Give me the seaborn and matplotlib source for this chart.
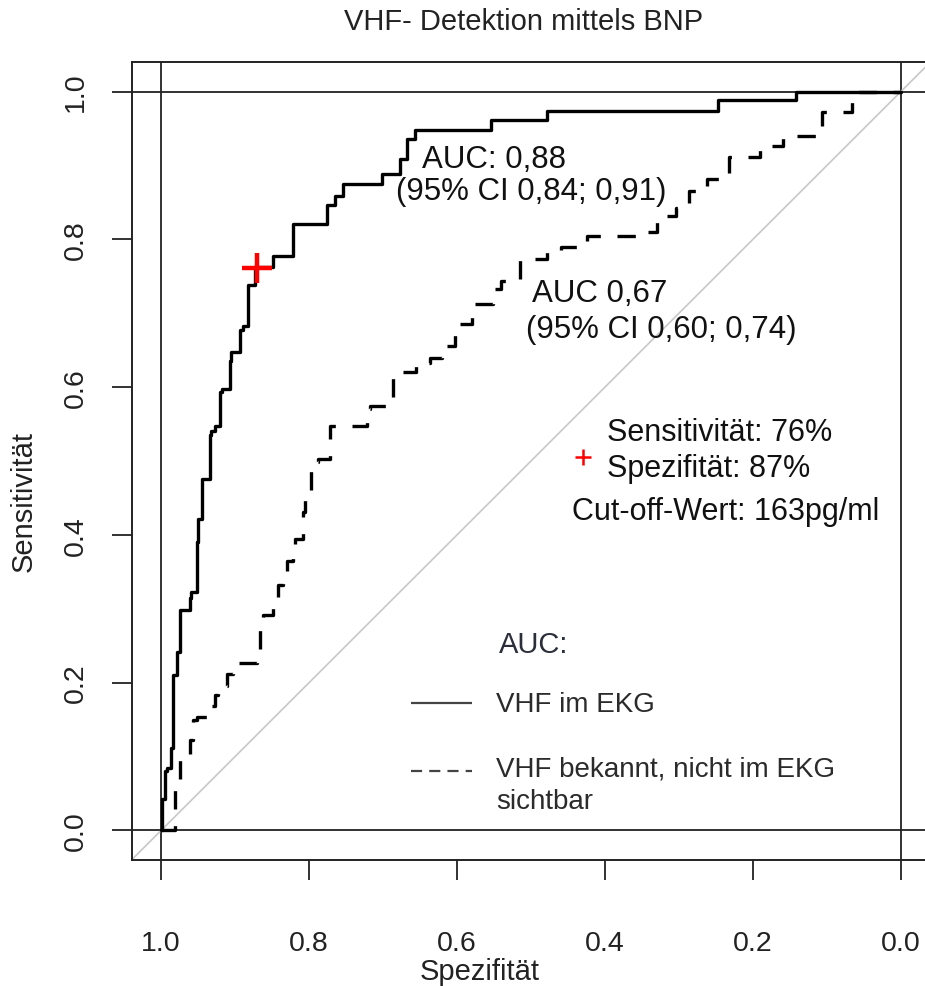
import numpy as np
import pandas as pd
import matplotlib
matplotlib.use("Agg")
import matplotlib.pyplot as plt
import seaborn as sns

# ---------------- data ----------------
title = "VHF- Detektion mittels BNP"
x_label = "Spezifität"
y_label = "Sensitivität"
tick_values = [1.0, 0.8, 0.6, 0.4, 0.2, 0.0]
tick_labels = ["1.0", "0.8", "0.6", "0.4", "0.2", "0.0"]

# ROC curve 1: VHF im EKG (solid)
spec_ekg = [1.0, 0.999, 0.999, 0.995, 0.995, 0.992, 0.986, 0.986, 0.984, 0.984,
            0.979, 0.979, 0.974, 0.974, 0.961, 0.961, 0.959, 0.952, 0.952, 0.950,
            0.950, 0.945, 0.945, 0.941, 0.934, 0.934, 0.932, 0.927, 0.920, 0.920,
            0.918, 0.907, 0.907, 0.905, 0.893, 0.893, 0.889, 0.882, 0.882, 0.873,
            0.871, 0.849, 0.849, 0.822, 0.822, 0.808, 0.776, 0.776, 0.765, 0.754,
            0.740, 0.702, 0.702, 0.677, 0.677, 0.668, 0.668, 0.657, 0.657, 0.554,
            0.554, 0.479, 0.479, 0.247, 0.247, 0.142, 0.142, 0.0]
sens_ekg = [0.0, 0.0, 0.016, 0.043, 0.074, 0.080, 0.084, 0.107, 0.111, 0.202,
            0.210, 0.237, 0.242, 0.298, 0.298, 0.300, 0.314, 0.323, 0.391, 0.391,
            0.422, 0.422, 0.436, 0.476, 0.476, 0.507, 0.535, 0.540, 0.548, 0.585,
            0.594, 0.598, 0.635, 0.635, 0.648, 0.675, 0.677, 0.683, 0.729, 0.738,
            0.762, 0.762, 0.777, 0.777, 0.792, 0.821, 0.821, 0.832, 0.846, 0.859,
            0.875, 0.875, 0.889, 0.889, 0.909, 0.909, 0.936, 0.936, 0.948, 0.948,
            0.961, 0.961, 0.974, 0.974, 0.988, 0.988, 1.0, 1.0]

# ROC curve 2: VHF bekannt, nicht im EKG sichtbar (dashed)
spec_known = [1.0, 0.981, 0.981, 0.976, 0.974, 0.974, 0.961, 0.957, 0.951, 0.937,
              0.927, 0.923, 0.911, 0.903, 0.889, 0.870, 0.866, 0.866, 0.862, 0.849,
              0.842, 0.835, 0.830, 0.822, 0.819, 0.808, 0.805, 0.797, 0.797, 0.788,
              0.772, 0.772, 0.745, 0.722, 0.718, 0.695, 0.687, 0.687, 0.668, 0.655,
              0.637, 0.620, 0.603, 0.600, 0.580, 0.579, 0.552, 0.547, 0.540, 0.515,
              0.515, 0.512, 0.479, 0.460, 0.450, 0.424, 0.424, 0.390, 0.343, 0.330,
              0.323, 0.304, 0.286, 0.286, 0.262, 0.262, 0.232, 0.232, 0.215, 0.190,
              0.180, 0.160, 0.151, 0.107, 0.107, 0.088, 0.066, 0.057, 0.057, 0.0]
sens_known = [0.0, 0.0, 0.030, 0.060, 0.070, 0.093, 0.104, 0.122, 0.149, 0.154,
              0.169, 0.183, 0.195, 0.212, 0.226, 0.226, 0.242, 0.267, 0.287, 0.291,
              0.310, 0.332, 0.345, 0.364, 0.386, 0.395, 0.431, 0.453, 0.479, 0.499,
              0.503, 0.530, 0.547, 0.547, 0.571, 0.575, 0.585, 0.605, 0.621, 0.621,
              0.632, 0.639, 0.656, 0.686, 0.686, 0.713, 0.713, 0.733, 0.733, 0.743,
              0.760, 0.774, 0.774, 0.783, 0.790, 0.790, 0.805, 0.805, 0.805, 0.810,
              0.832, 0.832, 0.842, 0.855, 0.865, 0.873, 0.882, 0.896, 0.912, 0.912,
              0.926, 0.926, 0.940, 0.940, 0.954, 0.973, 0.973, 0.986, 1.0, 1.0]

cutoff_spec = [0.871]
cutoff_sens = [0.761]

series_labels = ["VHF im EKG", "VHF bekannt, nicht im EKG\nsichtbar"]
legend_title = "AUC:"
auc_text_1 = ["AUC: 0,88", "(95% CI 0,84; 0,91)"]
auc_text_2 = ["AUC 0,67", "(95% CI 0,60; 0,74)"]
cutoff_text = ["Sensitivität: 76%", "Spezifität: 87%", "Cut-off-Wert: 163pg/ml"]

# ---------------- style ----------------
sns.set_theme(style="white")
plt.rcParams["font.family"] = ["Liberation Sans", "DejaVu Sans"]
plt.rcParams["axes.linewidth"] = 1.4
plt.rcParams["axes.edgecolor"] = "#222222"

W, H = 925, 987
fig = plt.figure(figsize=(W / 100, H / 100), dpi=100)
ax = fig.add_axes([131.5 / W, (H - 861) / H, 799 / W, 798 / H])
ax.set_xlim(1.04, -0.04)
ax.set_ylim(-0.04, 1.04)

# reference lines and diagonal
ref_c = "#222222"
ax.axhline(0, color=ref_c, lw=1.3, zorder=1)
ax.axhline(1, color=ref_c, lw=1.3, zorder=1)
ax.axvline(0, color=ref_c, lw=1.3, zorder=1)
ax.axvline(1, color=ref_c, lw=1.3, zorder=1)
ax.plot([1.04, -0.04], [-0.04, 1.04], color="#c8c8c8", lw=1.2, zorder=1)

# curves
df1 = pd.DataFrame({"spec": spec_ekg, "sens": sens_ekg})
df2 = pd.DataFrame({"spec": spec_known, "sens": sens_known})
sns.lineplot(data=df1, x="spec", y="sens", sort=False, estimator=None,
             color="black", lw=2.4, drawstyle="steps-pre", ax=ax, zorder=3)
sns.lineplot(data=df2, x="spec", y="sens", sort=False, estimator=None,
             color="black", lw=2.4, ls=(0, (5.5, 5.0)), drawstyle="steps-pre",
             ax=ax, zorder=3)

# cut-off marker
ax.plot(cutoff_spec, cutoff_sens, marker="+", color="#ff0000", ms=22, mew=3.2,
        ls="none", zorder=4)
ax.plot([0.430], [0.505], marker="+", color="#ff0000", ms=12, mew=1.8,
        ls="none", zorder=4)

# annotations
fs_ann = 22.5
ax.text(0.647, 0.8985, auc_text_1[0], fontsize=fs_ann, ha="left", va="baseline", color="#111111")
ax.text(0.682, 0.855, auc_text_1[1], fontsize=fs_ann, ha="left", va="baseline", color="#111111")
ax.text(0.499, 0.716, auc_text_2[0], fontsize=fs_ann, ha="left", va="baseline", color="#111111")
ax.text(0.507, 0.668, auc_text_2[1], fontsize=fs_ann, ha="left", va="baseline", color="#111111")
fs_cut = 22
ax.text(0.397, 0.528, cutoff_text[0], fontsize=fs_cut, ha="left", va="baseline", color="#111111")
ax.text(0.397, 0.480, cutoff_text[1], fontsize=fs_cut, ha="left", va="baseline", color="#111111")
ax.text(0.445, 0.422, cutoff_text[2], fontsize=fs_cut, ha="left", va="baseline", color="#111111")

# manual legend
leg_c = "#444444"
ax.text(0.543, 0.242, legend_title, fontsize=21, ha="left", va="baseline", color="#2a2f3a")
ax.plot([0.662, 0.580], [0.172, 0.172], color=leg_c, lw=1.6, solid_capstyle="butt")
ax.plot([0.662, 0.580], [0.081, 0.081], color=leg_c, lw=1.6, ls=(0, (5.0, 3.2)))
lab1 = series_labels[0].split("\n")
lab2 = series_labels[1].split("\n")
ax.text(0.547, 0.161, lab1[0], fontsize=20, ha="left", va="baseline", color="#2b2b2b")
ax.text(0.547, 0.0744, lab2[0], fontsize=20, ha="left", va="baseline", color="#2b2b2b")
ax.text(0.547, 0.0298, lab2[1], fontsize=20, ha="left", va="baseline", color="#2b2b2b")

# axes / ticks
for s in ["top", "right", "left", "bottom"]:
    ax.spines[s].set_visible(True)
ax.set_xticks(tick_values)
ax.set_xticklabels(tick_labels)
ax.set_yticks(tick_values)
ax.set_yticklabels(tick_labels)
ax.tick_params(axis="both", which="major", direction="out", length=14.4, width=1.3,
               color="#222222", labelcolor="#222222", labelsize=20.5,
               bottom=True, left=True, top=False, right=False)
ax.tick_params(axis="x", pad=36)
ax.tick_params(axis="y", pad=16, labelrotation=90)
for lab in ax.get_yticklabels():
    lab.set_va("center")

ax.set_xlabel(x_label, fontsize=21, color="#222222")
ax.xaxis.set_label_coords(0.436, -0.139)
ax.xaxis.label.set_va("center")
ax.set_ylabel(y_label, fontsize=21, color="#222222")
ax.yaxis.set_label_coords(-0.1345, 0.451)
ax.yaxis.label.set_va("center")
ax.set_title(title, fontsize=21, color="#222222", x=0.491, y=1.0514, va="center", pad=0)
ax.grid(False)

fig.savefig("out.png", dpi=100)
